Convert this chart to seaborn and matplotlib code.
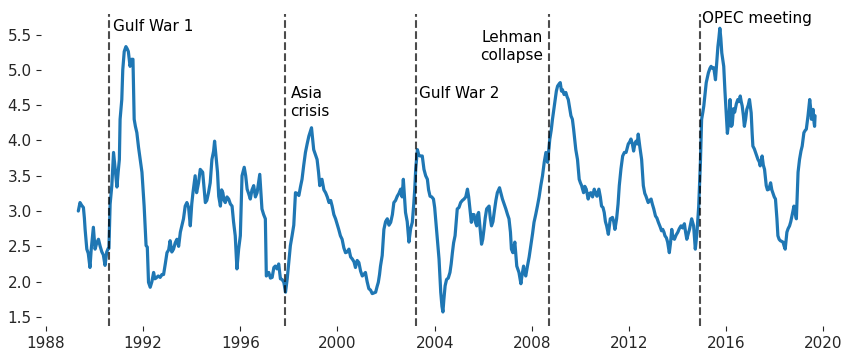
import matplotlib
matplotlib.use("Agg")
import matplotlib.pyplot as plt
import numpy as np
import pandas as pd
import seaborn as sns

# decimal year / value pairs
years = [
    1989.33, 1989.36, 1989.40, 1989.47, 1989.54, 1989.58, 1989.61, 1989.68, 1989.74, 1989.81,
    1989.86, 1989.95, 1990.02, 1990.09, 1990.16, 1990.23, 1990.30, 1990.36, 1990.43, 1990.50,
    1990.56, 1990.59, 1990.64, 1990.71, 1990.78, 1990.85, 1990.92, 1990.97, 1991.02, 1991.05,
    1991.12, 1991.16, 1991.22, 1991.29, 1991.34, 1991.39, 1991.46, 1991.52, 1991.58, 1991.63,
    1991.68, 1991.74, 1991.81, 1991.88, 1991.95, 1992.04, 1992.12, 1992.17, 1992.22, 1992.29,
    1992.36, 1992.43, 1992.48, 1992.53, 1992.62, 1992.70, 1992.77, 1992.84, 1992.91, 1992.98,
    1993.05, 1993.11, 1993.18, 1993.25, 1993.32, 1993.39, 1993.46, 1993.53, 1993.60, 1993.66,
    1993.73, 1993.80, 1993.87, 1993.94, 1994.00, 1994.05, 1994.14, 1994.20, 1994.28, 1994.35,
    1994.45, 1994.50, 1994.56, 1994.62, 1994.69, 1994.76, 1994.83, 1994.90, 1994.94, 1995.01,
    1995.06, 1995.11, 1995.18, 1995.23, 1995.28, 1995.33, 1995.38, 1995.45, 1995.52, 1995.59,
    1995.66, 1995.72, 1995.79, 1995.86, 1995.93, 1996.00, 1996.07, 1996.16, 1996.22, 1996.28,
    1996.34, 1996.41, 1996.48, 1996.55, 1996.62, 1996.69, 1996.75, 1996.80, 1996.89, 1996.96,
    1997.03, 1997.07, 1997.12, 1997.17, 1997.24, 1997.31, 1997.38, 1997.44, 1997.51, 1997.58,
    1997.65, 1997.72, 1997.79, 1997.86, 1997.93, 1998.00, 1998.06, 1998.13, 1998.20, 1998.27,
    1998.34, 1998.41, 1998.48, 1998.54, 1998.61, 1998.68, 1998.75, 1998.82, 1998.93, 1999.02,
    1999.09, 1999.16, 1999.22, 1999.27, 1999.36, 1999.44, 1999.51, 1999.58, 1999.65, 1999.72,
    1999.78, 1999.85, 1999.92, 2000.00, 2000.05, 2000.12, 2000.19, 2000.26, 2000.33, 2000.40,
    2000.47, 2000.54, 2000.61, 2000.68, 2000.74, 2000.81, 2000.88, 2000.95, 2001.02, 2001.08,
    2001.15, 2001.22, 2001.29, 2001.36, 2001.43, 2001.50, 2001.57, 2001.63, 2001.68, 2001.73,
    2001.77, 2001.84, 2001.91, 2001.98, 2002.05, 2002.12, 2002.19, 2002.26, 2002.32, 2002.39,
    2002.46, 2002.53, 2002.60, 2002.66, 2002.71, 2002.76, 2002.80, 2002.87, 2002.94, 2003.01,
    2003.08, 2003.14, 2003.18, 2003.22, 2003.29, 2003.34, 2003.40, 2003.49, 2003.56, 2003.63,
    2003.70, 2003.75, 2003.81, 2003.88, 2003.95, 2004.00, 2004.04, 2004.11, 2004.18, 2004.25,
    2004.30, 2004.34, 2004.38, 2004.43, 2004.49, 2004.56, 2004.63, 2004.68, 2004.73, 2004.78,
    2004.84, 2004.93, 2005.00, 2005.07, 2005.14, 2005.21, 2005.28, 2005.35, 2005.40, 2005.44,
    2005.51, 2005.56, 2005.62, 2005.67, 2005.73, 2005.77, 2005.81, 2005.87, 2005.93, 2005.98,
    2006.03, 2006.08, 2006.14, 2006.19, 2006.24, 2006.29, 2006.34, 2006.40, 2006.45, 2006.52,
    2006.58, 2006.67, 2006.73, 2006.79, 2006.86, 2006.93, 2007.00, 2007.06, 2007.12, 2007.16,
    2007.22, 2007.30, 2007.38, 2007.47, 2007.55, 2007.60, 2007.66, 2007.70, 2007.75, 2007.82,
    2007.89, 2007.96, 2008.03, 2008.09, 2008.16, 2008.23, 2008.30, 2008.37, 2008.44, 2008.51,
    2008.58, 2008.65, 2008.74, 2008.80, 2008.85, 2008.91, 2008.96, 2009.01, 2009.06, 2009.12,
    2009.17, 2009.22, 2009.26, 2009.33, 2009.40, 2009.45, 2009.50, 2009.56, 2009.61, 2009.67,
    2009.72, 2009.77, 2009.81, 2009.88, 2009.95, 2010.00, 2010.05, 2010.13, 2010.18, 2010.24,
    2010.32, 2010.38, 2010.43, 2010.50, 2010.57, 2010.62, 2010.68, 2010.76, 2010.82, 2010.87,
    2010.93, 2010.98, 2011.03, 2011.08, 2011.15, 2011.23, 2011.28, 2011.32, 2011.37, 2011.42,
    2011.49, 2011.55, 2011.60, 2011.67, 2011.74, 2011.81, 2011.88, 2011.97, 2012.03, 2012.08,
    2012.14, 2012.19, 2012.24, 2012.29, 2012.34, 2012.38, 2012.45, 2012.52, 2012.59, 2012.65,
    2012.70, 2012.79, 2012.85, 2012.91, 2012.96, 2013.02, 2013.09, 2013.15, 2013.21, 2013.29,
    2013.34, 2013.39, 2013.44, 2013.48, 2013.54, 2013.59, 2013.66, 2013.71, 2013.76, 2013.81,
    2013.87, 2013.94, 2014.01, 2014.07, 2014.14, 2014.21, 2014.28, 2014.33, 2014.38, 2014.44,
    2014.49, 2014.54, 2014.58, 2014.66, 2014.73, 2014.80, 2014.87, 2014.94, 2014.99, 2015.04,
    2015.08, 2015.13, 2015.18, 2015.23, 2015.27, 2015.33, 2015.38, 2015.44, 2015.49, 2015.56,
    2015.61, 2015.66, 2015.70, 2015.74, 2015.78, 2015.82, 2015.86, 2015.90, 2015.95, 2016.00,
    2016.05, 2016.10, 2016.16, 2016.21, 2016.25, 2016.30, 2016.35, 2016.42, 2016.48, 2016.53,
    2016.58, 2016.62, 2016.66, 2016.71, 2016.75, 2016.80, 2016.85, 2016.91, 2016.96, 2017.03,
    2017.07, 2017.10, 2017.16, 2017.21, 2017.26, 2017.31, 2017.36, 2017.40, 2017.44, 2017.48,
    2017.53, 2017.58, 2017.65, 2017.70, 2017.76, 2017.83, 2017.88, 2017.92, 2017.98, 2018.03,
    2018.09, 2018.13, 2018.18, 2018.23, 2018.29, 2018.34, 2018.39, 2018.43, 2018.50, 2018.55,
    2018.61, 2018.66, 2018.71, 2018.75, 2018.79, 2018.84, 2018.89, 2018.96, 2019.02, 2019.08,
    2019.13, 2019.20, 2019.25, 2019.30, 2019.37, 2019.44, 2019.48, 2019.51, 2019.55, 2019.58,
    2019.62, 2019.64, 2019.66,
]

values = [
    3.00, 3.05, 3.12, 3.08, 3.05, 2.90, 2.74, 2.46, 2.40, 2.20,
    2.45, 2.77, 2.46, 2.55, 2.60, 2.50, 2.42, 2.38, 2.23, 2.42,
    2.47, 2.47, 3.10, 3.36, 3.83, 3.59, 3.34, 3.55, 3.73, 4.30,
    4.58, 5.00, 5.26, 5.33, 5.30, 5.26, 5.05, 5.15, 5.15, 4.30,
    4.20, 4.11, 3.90, 3.73, 3.55, 3.07, 2.51, 2.49, 1.99, 1.92,
    2.00, 2.13, 2.04, 2.05, 2.08, 2.06, 2.10, 2.10, 2.25, 2.41,
    2.45, 2.58, 2.42, 2.46, 2.55, 2.60, 2.50, 2.70, 2.80, 2.89,
    3.07, 3.12, 3.05, 2.79, 3.10, 3.26, 3.50, 3.26, 3.40, 3.59,
    3.55, 3.35, 3.12, 3.15, 3.26, 3.40, 3.73, 3.85, 3.99, 3.73,
    3.55, 3.21, 3.07, 3.30, 3.26, 3.15, 3.12, 3.20, 3.17, 3.10,
    3.07, 2.85, 2.65, 2.18, 2.46, 2.65, 3.50, 3.62, 3.50, 3.31,
    3.25, 3.17, 3.30, 3.36, 3.20, 3.26, 3.40, 3.52, 3.03, 2.95,
    2.89, 2.08, 2.10, 2.13, 2.05, 2.06, 2.20, 2.22, 2.18, 2.25,
    2.04, 2.03, 1.99, 1.85, 2.04, 2.30, 2.51, 2.65, 2.80, 3.26,
    3.25, 3.22, 3.35, 3.45, 3.65, 3.83, 3.95, 4.06, 4.18, 3.87,
    3.80, 3.73, 3.55, 3.36, 3.45, 3.30, 3.26, 3.20, 3.12, 3.15,
    3.07, 2.95, 2.89, 2.80, 2.74, 2.65, 2.60, 2.48, 2.41, 2.42,
    2.46, 2.35, 2.32, 2.28, 2.20, 2.30, 2.27, 2.15, 2.08, 2.10,
    2.13, 2.00, 1.90, 1.88, 1.83, 1.84, 1.85, 1.93, 1.99, 2.10,
    2.22, 2.37, 2.74, 2.85, 2.89, 2.80, 2.84, 2.95, 3.12, 3.15,
    3.21, 3.25, 3.31, 3.20, 3.45, 3.20, 2.98, 2.85, 2.56, 2.75,
    2.84, 3.10, 3.31, 3.60, 3.87, 3.80, 3.78, 3.78, 3.59, 3.50,
    3.45, 3.30, 3.21, 3.20, 3.17, 3.05, 2.89, 2.60, 2.32, 1.85,
    1.65, 1.57, 1.75, 1.94, 2.03, 2.05, 2.13, 2.25, 2.41, 2.55,
    2.65, 3.03, 3.05, 3.12, 3.15, 3.17, 3.20, 3.31, 3.20, 3.07,
    2.84, 2.95, 2.95, 2.85, 2.79, 2.95, 2.98, 2.75, 2.53, 2.60,
    2.74, 2.90, 3.03, 3.05, 3.07, 2.90, 2.79, 2.85, 2.98, 3.15,
    3.26, 3.33, 3.25, 3.17, 3.10, 3.03, 2.95, 2.89, 2.70, 2.46,
    2.41, 2.56, 2.22, 2.13, 1.97, 2.10, 2.22, 2.12, 2.08, 2.22,
    2.35, 2.51, 2.68, 2.84, 2.95, 3.07, 3.20, 3.36, 3.50, 3.69,
    3.83, 3.69, 4.02, 4.15, 4.30, 4.45, 4.58, 4.70, 4.77, 4.80,
    4.82, 4.70, 4.72, 4.65, 4.68, 4.62, 4.58, 4.45, 4.35, 4.30,
    4.16, 4.00, 3.87, 3.73, 3.45, 3.40, 3.36, 3.26, 3.35, 3.31,
    3.17, 3.25, 3.26, 3.20, 3.31, 3.25, 3.21, 3.31, 3.20, 3.07,
    3.05, 2.98, 2.85, 2.79, 2.67, 2.89, 2.90, 2.91, 2.85, 2.74,
    2.89, 3.10, 3.36, 3.60, 3.78, 3.83, 3.83, 3.95, 3.98, 4.02,
    3.95, 3.85, 3.95, 3.99, 3.95, 4.09, 3.90, 3.73, 3.36, 3.25,
    3.21, 3.12, 3.15, 3.17, 3.10, 3.03, 2.93, 2.90, 2.84, 2.77,
    2.72, 2.74, 2.70, 2.65, 2.62, 2.56, 2.41, 2.55, 2.74, 2.62,
    2.60, 2.66, 2.70, 2.75, 2.79, 2.76, 2.82, 2.70, 2.60, 2.68,
    2.74, 2.82, 2.89, 2.79, 2.46, 2.70, 3.07, 3.69, 4.30, 4.40,
    4.49, 4.65, 4.82, 4.90, 4.96, 5.02, 5.05, 5.02, 5.03, 4.86,
    5.10, 5.33, 5.45, 5.59, 5.45, 5.24, 5.15, 5.05, 4.70, 4.40,
    4.10, 4.25, 4.58, 4.20, 4.22, 4.45, 4.40, 4.52, 4.58, 4.55,
    4.63, 4.55, 4.49, 4.35, 4.20, 4.30, 4.44, 4.50, 4.58, 4.39,
    4.10, 3.92, 3.88, 3.83, 3.78, 3.73, 3.70, 3.64, 3.70, 3.78,
    3.65, 3.59, 3.36, 3.30, 3.31, 3.40, 3.30, 3.26, 3.20, 3.17,
    2.89, 2.65, 2.60, 2.58, 2.57, 2.56, 2.50, 2.46, 2.70, 2.75,
    2.79, 2.85, 2.93, 3.00, 3.07, 2.98, 2.89, 3.55, 3.73, 3.85,
    3.92, 4.11, 4.14, 4.16, 4.35, 4.58, 4.45, 4.30, 4.40, 4.44,
    4.25, 4.20, 4.35,
]

events = ['Gulf War 1', 'Asia\ncrisis', 'Gulf War 2', 'Lehman\ncollapse', 'OPEC meeting']
event_years = [1990.585, 1997.82, 2003.215, 2008.705, 2014.905]

xticks = [1988, 1992, 1996, 2000, 2004, 2008, 2012, 2016, 2020]
yticks = [1.5, 2.0, 2.5, 3.0, 3.5, 4.0, 4.5, 5.0, 5.5]

df = pd.DataFrame({'year': years, 'value': values})

sns.set_style('ticks')
plt.rcParams.update({
    'xtick.major.size': 3.5, 'ytick.major.size': 3.5,
    'xtick.major.width': 0.8, 'ytick.major.width': 0.8,
    'font.size': 10,
})

fig = plt.figure(figsize=(8.64, 3.6), dpi=100)
ax = fig.add_subplot(111)
fig.subplots_adjust(left=0.048, right=0.986, top=0.961, bottom=0.094)

sns.lineplot(data=df, x='year', y='value', ax=ax, color='#1f77b4', lw=2.3,
             estimator=None, sort=False)

# label placement: (x offset in years, y, horizontal alignment)
label_pos = [(0.16, 5.725, 'left'), (0.25, 4.77, 'left'), (0.12, 4.77, 'left'),
             (-0.25, 5.56, 'right'), (0.08, 5.83, 'left')]

for name, yr, (dx, ty, ha) in zip(events, event_years, label_pos):
    ax.axvline(yr, color='k', alpha=0.7, ls='--', lw=1.5)
    ax.text(yr + dx, ty, name, ha=ha, va='top', fontsize=11, color='k')

ax.set_xticks(xticks)
ax.set_xticklabels([str(t) for t in xticks])
ax.set_yticks(yticks)
ax.set_xlabel('')
ax.set_ylabel('')
ax.tick_params(labelsize=11)
sns.despine(ax=ax, left=True, bottom=True)

fig.savefig('out.png', dpi=100)
